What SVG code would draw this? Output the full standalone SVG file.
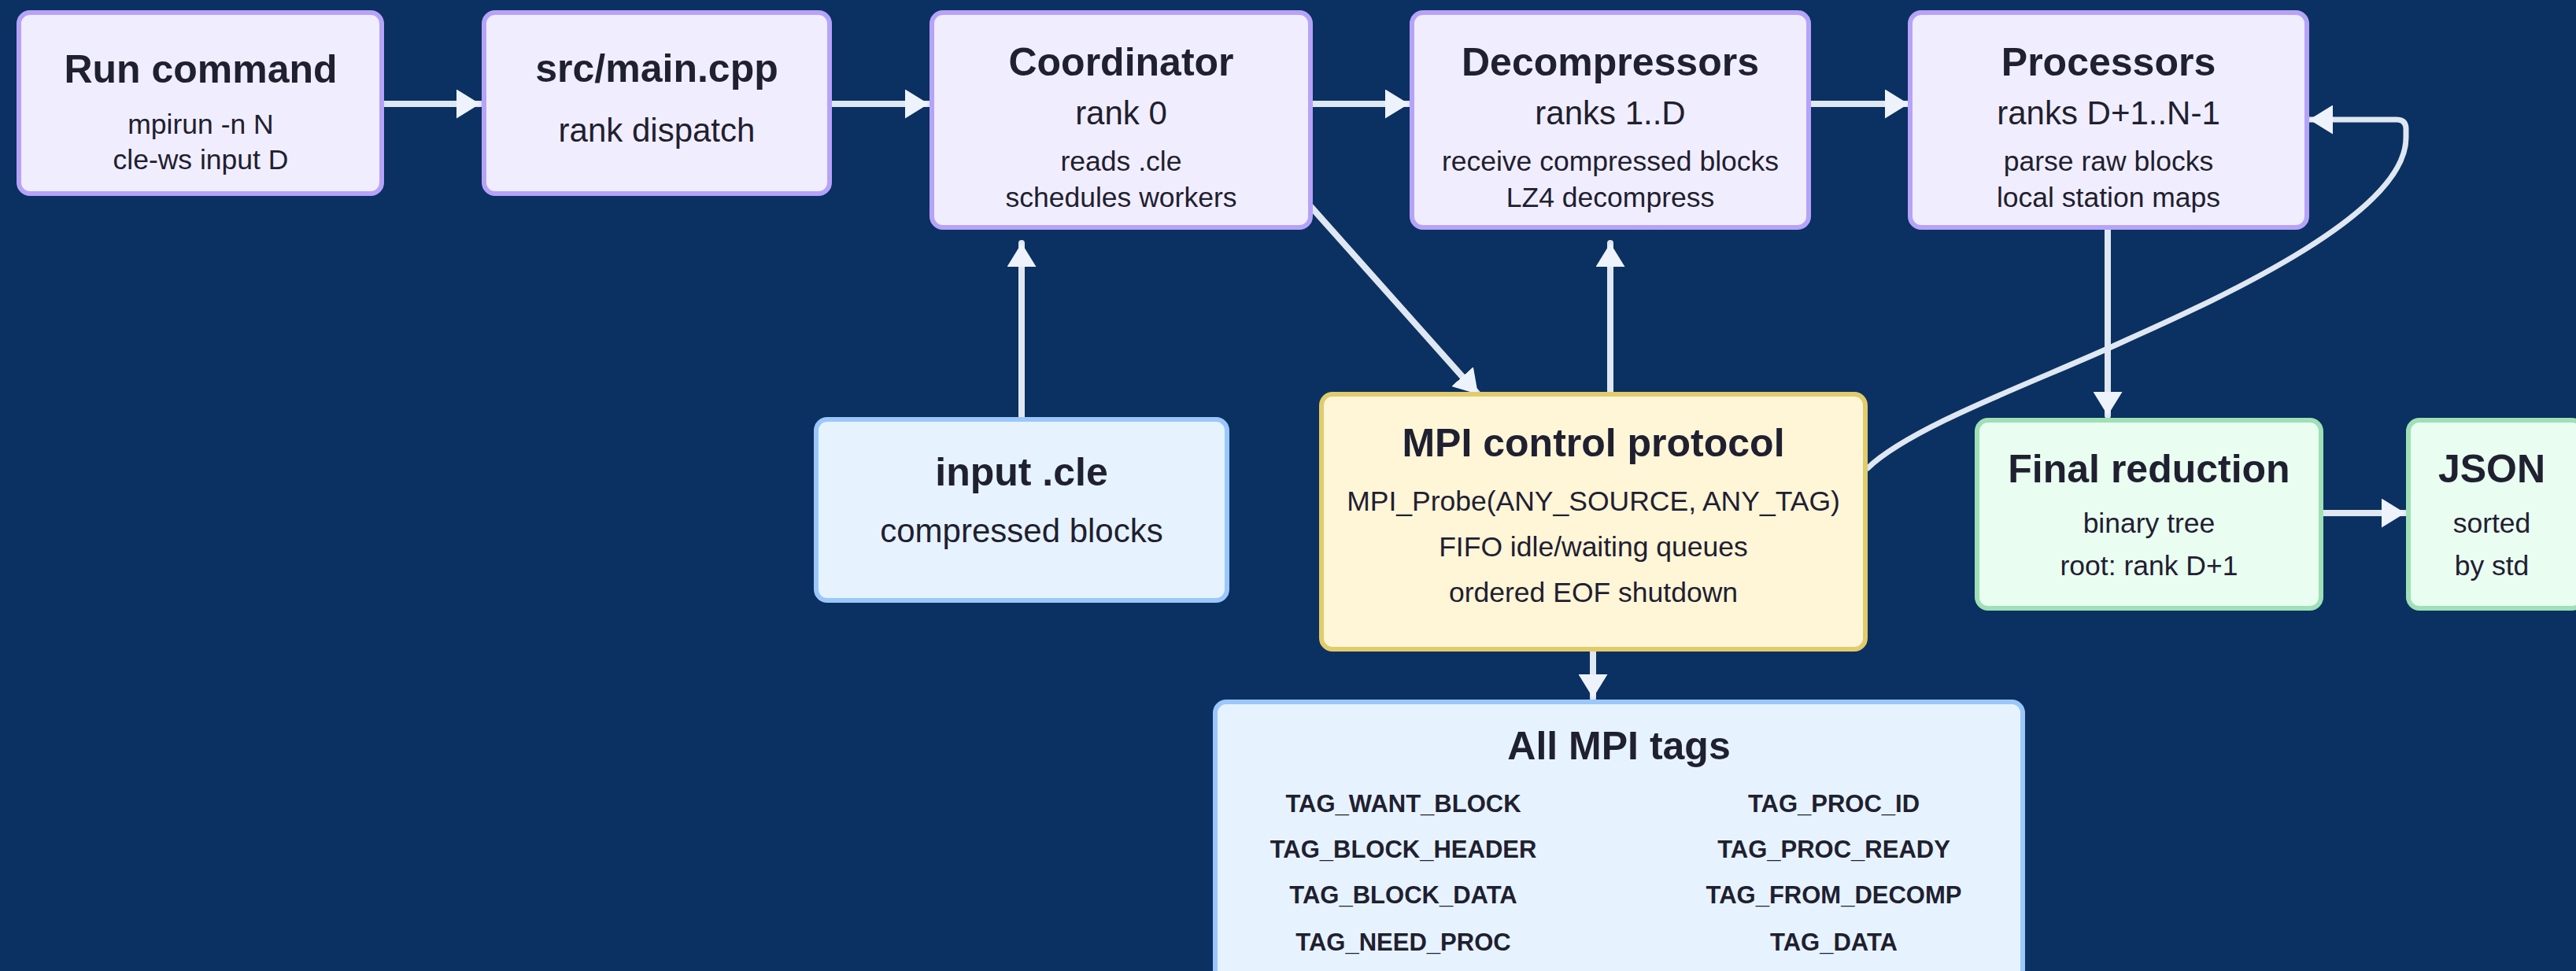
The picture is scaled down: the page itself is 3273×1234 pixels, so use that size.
<svg xmlns="http://www.w3.org/2000/svg" width="3273" height="1234" viewBox="0 0 3273 1234">
<defs>
<style>
.bg{fill:#0a3161}
.box{stroke-width:6}
.purple{fill:#f0eefe;stroke:#b6a3f8}
.blue{fill:#e6f3ff;stroke:#9cc7fb}
.yellow{fill:#fff6d8;stroke:#e2cb6c}
.green{fill:#eafdf1;stroke:#9fe0b6}
text{font-family:"Liberation Sans",Arial,sans-serif;fill:#1f2030;text-anchor:middle}
.t{font-size:50px;font-weight:bold}
.m{font-size:42px}
.s{font-size:35.5px}
.tag{font-size:31px;font-weight:bold}
.edge{fill:none;stroke:#dfe7f2;stroke-width:8;stroke-linecap:round;marker-end:url(#ah)}
.curve{stroke-width:7}
</style>
<marker id="ah" viewBox="0 0 30 37" refX="30" refY="18.5" markerWidth="30" markerHeight="37" markerUnits="userSpaceOnUse" orient="auto">
<path d="M0,0 L30,18.5 L0,37 Z" fill="#eef2fb"/>
</marker>
</defs>
<rect class="bg" x="0" y="0" width="3273" height="1234"/>

<g id="connectors">
<path class="edge" d="M487,132 L610,132"/>
<path class="edge" d="M1057,132 L1180,132"/>
<path class="edge" d="M1668,132 L1790,132"/>
<path class="edge" d="M2301,132 L2425,132"/>
<path class="edge" d="M1298,530 L1298,309"/>
<path class="edge" d="M1665,262 L1878,501"/>
<path class="edge" d="M2046,498 L2046,309"/>
<path class="edge" d="M2024,828 L2024,887"/>
<path class="edge" d="M2678,292 L2678,528"/>
<path class="edge" d="M2952,652 L3056,652"/>
<path class="edge curve" d="M2373,595 C2430,540 2600,480 2700,433 C2830,375 3057,270 3057,175 L3057,164 Q3057,152 3045,152 L2934,152"/>
</g>

<g id="run-command">
<rect class="box purple" x="24" y="16" width="461" height="230" rx="14"/>
<text class="t" x="255" y="105">Run command</text>
<text class="s" x="255" y="170">mpirun -n N</text>
<text class="s" x="255" y="215">cle-ws input D</text>
</g>

<g id="main-cpp">
<rect class="box purple" x="615" y="16" width="439" height="230" rx="14"/>
<text class="t" x="834.5" y="104">src/main.cpp</text>
<text class="m" x="834.5" y="180">rank dispatch</text>
</g>

<g id="coordinator">
<rect class="box purple" x="1184" y="16" width="481" height="273" rx="14"/>
<text class="t" x="1424.5" y="96">Coordinator</text>
<text class="m" x="1424.5" y="158">rank 0</text>
<text class="s" x="1424.5" y="217">reads .cle</text>
<text class="s" x="1424.5" y="263">schedules workers</text>
</g>

<g id="decompressors">
<rect class="box purple" x="1794" y="16" width="504" height="273" rx="14"/>
<text class="t" x="2046" y="96">Decompressors</text>
<text class="m" x="2046" y="158">ranks 1..D</text>
<text class="s" x="2046" y="217">receive compressed blocks</text>
<text class="s" x="2046" y="263">LZ4 decompress</text>
</g>

<g id="processors">
<rect class="box purple" x="2427" y="16" width="504" height="273" rx="14"/>
<text class="t" x="2679" y="96">Processors</text>
<text class="m" x="2679" y="158">ranks D+1..N-1</text>
<text class="s" x="2679" y="217">parse raw blocks</text>
<text class="s" x="2679" y="263">local station maps</text>
</g>

<g id="input-cle">
<rect class="box blue" x="1037" y="533" width="522" height="230" rx="14"/>
<text class="t" x="1298" y="617">input .cle</text>
<text class="m" x="1298" y="689">compressed blocks</text>
</g>

<g id="mpi-control">
<rect class="box yellow" x="1679" y="501" width="691" height="324" rx="14"/>
<text class="t" x="2024.5" y="580">MPI control protocol</text>
<text class="s" x="2024.5" y="649">MPI_Probe(ANY_SOURCE, ANY_TAG)</text>
<text class="s" x="2024.5" y="707">FIFO idle/waiting queues</text>
<text class="s" x="2024.5" y="765">ordered EOF shutdown</text>
</g>

<g id="final-reduction">
<rect class="box green" x="2512" y="534" width="437" height="239" rx="14"/>
<text class="t" x="2730.5" y="613">Final reduction</text>
<text class="s" x="2730.5" y="677">binary tree</text>
<text class="s" x="2730.5" y="731">root: rank D+1</text>
</g>

<g id="json">
<rect class="box green" x="3060" y="534" width="222" height="239" rx="14"/>
<text class="t" x="3166" y="613">JSON</text>
<text class="s" x="3166" y="677">sorted</text>
<text class="s" x="3166" y="731">by std</text>
</g>

<g id="all-mpi-tags">
<rect class="box blue" x="1544" y="892" width="1026" height="380" rx="14"/>
<text class="t" x="2057" y="965">All MPI tags</text>
<text class="tag" x="1783" y="1032">TAG_WANT_BLOCK</text>
<text class="tag" x="1783" y="1090">TAG_BLOCK_HEADER</text>
<text class="tag" x="1783" y="1148">TAG_BLOCK_DATA</text>
<text class="tag" x="1783" y="1208">TAG_NEED_PROC</text>
<text class="tag" x="2330" y="1032">TAG_PROC_ID</text>
<text class="tag" x="2330" y="1090">TAG_PROC_READY</text>
<text class="tag" x="2330" y="1148">TAG_FROM_DECOMP</text>
<text class="tag" x="2330" y="1208">TAG_DATA</text>
</g>
</svg>
